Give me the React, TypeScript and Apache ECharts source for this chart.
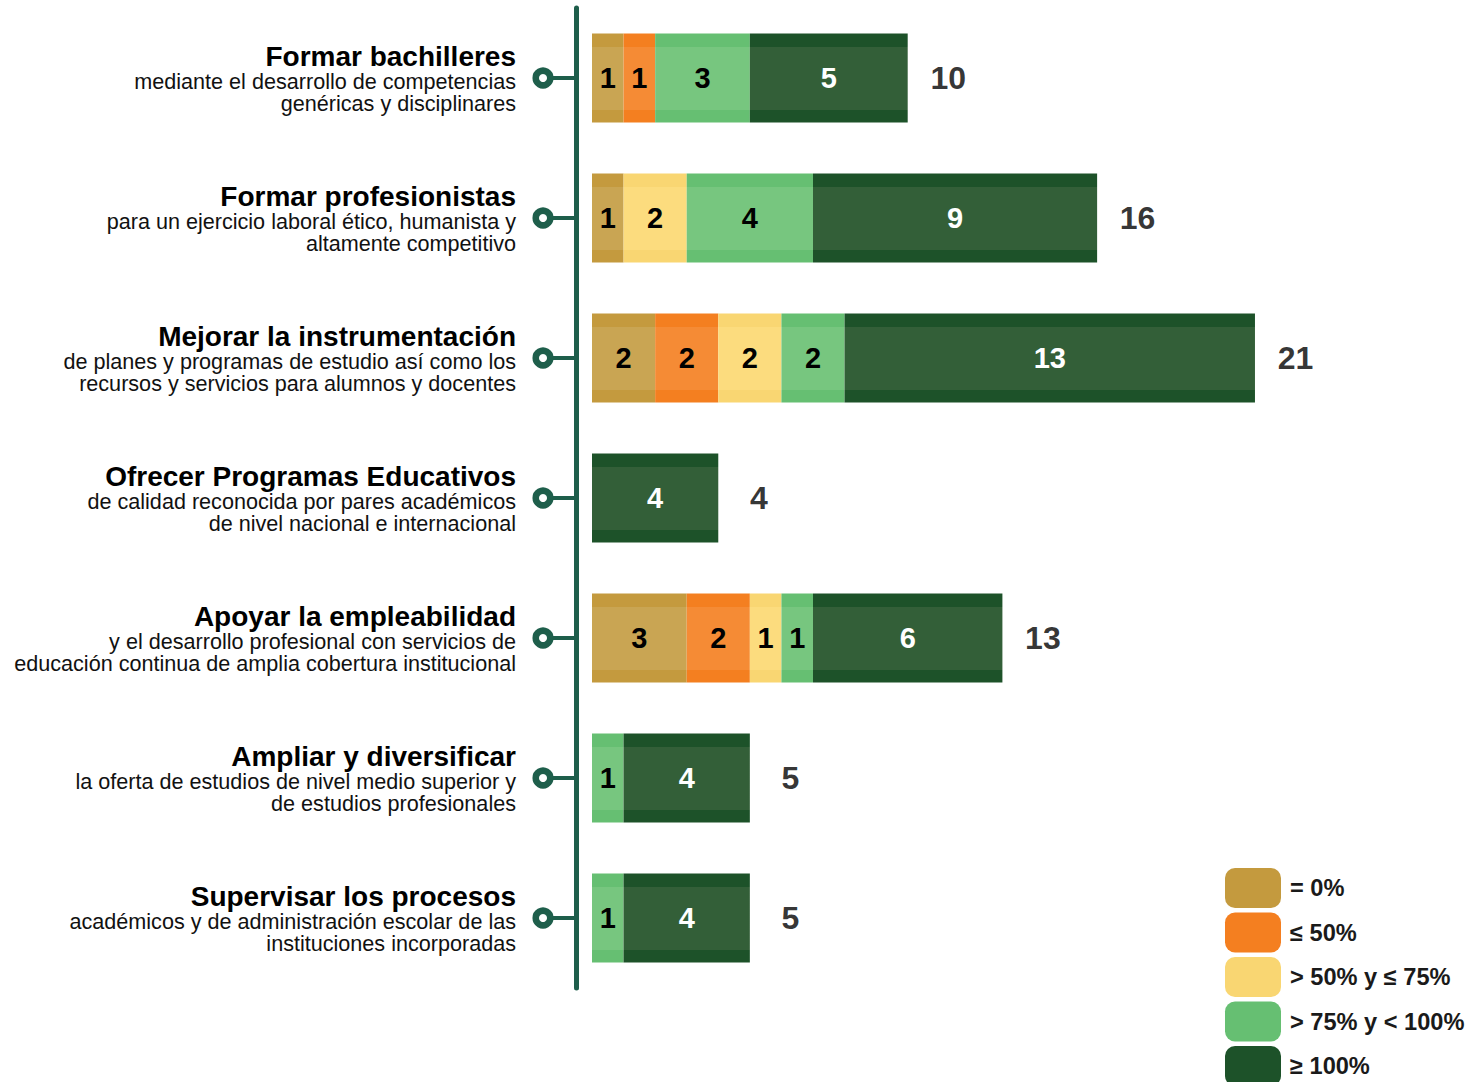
import React, { useEffect, useRef } from "react";
import * as echarts from "echarts";

const titles = [
  "Formar bachilleres",
  "Formar profesionistas",
  "Mejorar la instrumentación",
  "Ofrecer Programas Educativos",
  "Apoyar la empleabilidad",
  "Ampliar y diversificar",
  "Supervisar los procesos",
];
const subLine1 = [
  "mediante el desarrollo de competencias",
  "para un ejercicio laboral ético, humanista y",
  "de planes y programas de estudio así como los",
  "de calidad reconocida por pares académicos",
  "y el desarrollo profesional con servicios de",
  "la oferta de estudios de nivel medio superior y",
  "académicos y de administración escolar de las",
];
const subLine2 = [
  "genéricas y disciplinares",
  "altamente competitivo",
  "recursos y servicios para alumnos y docentes",
  "de nivel nacional e internacional",
  "educación continua de amplia cobertura institucional",
  "de estudios profesionales",
  "instituciones incorporadas",
];

const seriesNames = ["= 0%", "≤ 50%", "> 50% y ≤ 75%", "> 75% y < 100%", "≥ 100%"];
const eq0 = [1, 1, 2, 0, 3, 0, 0];
const le50 = [1, 0, 2, 0, 2, 0, 0];
const le75 = [0, 2, 2, 0, 1, 0, 0];
const lt100 = [3, 4, 2, 0, 1, 1, 1];
const ge100 = [5, 9, 13, 4, 6, 4, 4];
const totals = [10, 16, 21, 4, 13, 5, 5];

const bandColors = ["#c49a3e", "#f47f20", "#f9d672", "#66bf72", "#1d5229"];
const midColors = ["#c9a553", "#f58b35", "#fcdc7e", "#77c67f", "#335f38"];
const labelColors = ["#000", "#000", "#000", "#000", "#fff"];
const axisColor = "#1e5e4b";
const FONT = "'Liberation Sans', Arial, sans-serif";

function bandGradient(i: number) {
  return new echarts.graphic.LinearGradient(0, 0, 0, 1, [
    { offset: 0, color: bandColors[i] },
    { offset: 0.157, color: bandColors[i] },
    { offset: 0.157, color: midColors[i] },
    { offset: 0.865, color: midColors[i] },
    { offset: 0.865, color: bandColors[i] },
    { offset: 1, color: bandColors[i] },
  ]);
}

export default function App() {
  const ref = useRef<HTMLDivElement>(null);
  useEffect(() => {
    if (!ref.current) return;
    const chart = echarts.init(ref.current, undefined, { renderer: "svg" });
    const values = [eq0, le50, le75, lt100, ge100];
    const barSeries = values.map((vals, i) => ({
      name: seriesNames[i],
      type: "bar",
      stack: "total",
      barWidth: 89,
      data: vals,
      itemStyle: { color: bandGradient(i) },
      label: {
        show: true,
        position: "inside",
        formatter: (p: any) => (p.value > 0 ? String(p.value) : ""),
        color: labelColors[i],
        fontFamily: FONT,
        fontWeight: "bold",
        fontSize: 29,
      },
      emphasis: { disabled: true },
    }));
    const option: any = {
      animation: false,
      grid: { left: 592, top: 8, width: 28 * 31.57, height: 980 },
      xAxis: { type: "value", min: 0, max: 28, show: false },
      yAxis: {
        type: "category",
        inverse: true,
        data: titles,
        offset: 16,
        axisLine: { show: true, onZero: false, lineStyle: { color: axisColor, width: 5 } },
        axisTick: {
          show: true,
          alignWithLabel: true,
          length: 24,
          lineStyle: { color: axisColor, width: 4 },
        },
        axisLabel: {
          margin: 60,
          formatter: (_v: string, idx: number) =>
            `{t|${titles[idx]}}\n{s|${subLine1[idx]}}\n{s|${subLine2[idx]}}`,
          rich: {
            t: {
              fontFamily: FONT,
              fontWeight: "bold",
              fontSize: 28,
              lineHeight: 28,
              color: "#000",
              align: "right",
            },
            s: {
              fontFamily: FONT,
              fontSize: 21.6,
              lineHeight: 22,
              color: "#111",
              align: "right",
            },
          },
        },
      },
      legend: {
        orient: "vertical",
        left: 1225,
        top: 868,
        height: 260,
        padding: 0,
        itemWidth: 56,
        itemHeight: 40,
        itemGap: 4.5,
        icon: "roundRect",
        selectedMode: false,
        textStyle: {
          fontFamily: FONT,
          fontWeight: "bold",
          fontSize: 23.6,
          color: "#1a1a1a",
          padding: [0, 0, 0, 4],
        },
        data: seriesNames.map((n, i) => ({ name: n, itemStyle: { color: bandColors[i] } })),
      },
      series: [
        ...barSeries,
        {
          type: "scatter",
          name: "total",
          data: totals.map((t, i) => [t, i]),
          symbolSize: 1,
          itemStyle: { color: "rgba(0,0,0,0)" },
          label: {
            show: true,
            position: "right",
            distance: 40,
            align: "center",
            formatter: (p: any) => String(p.value[0]),
            fontFamily: FONT,
            fontWeight: "bold",
            fontSize: 32,
            color: "#000",
          },
          emphasis: { disabled: true },
        },
      ],
    };
    chart.setOption(option);
    const x0 = chart.convertToPixel({ xAxisIndex: 0 }, 0) as number;
    const circles = titles.map((t, i) => {
      const y = chart.convertToPixel({ yAxisIndex: 0 }, i) as number;
      return {
        type: "circle",
        shape: { cx: x0 - 49, cy: y, r: 7.3 },
        style: { fill: "#fff", stroke: axisColor, lineWidth: 6.5 },
        z: 100,
      };
    });
    chart.setOption({ graphic: circles });
    return () => chart.dispose();
  }, []);
  return (
    <div
      ref={ref}
      style={{ position: "absolute", left: 0, top: 0, width: 1479, height: 1082 }}
    />
  );
}
